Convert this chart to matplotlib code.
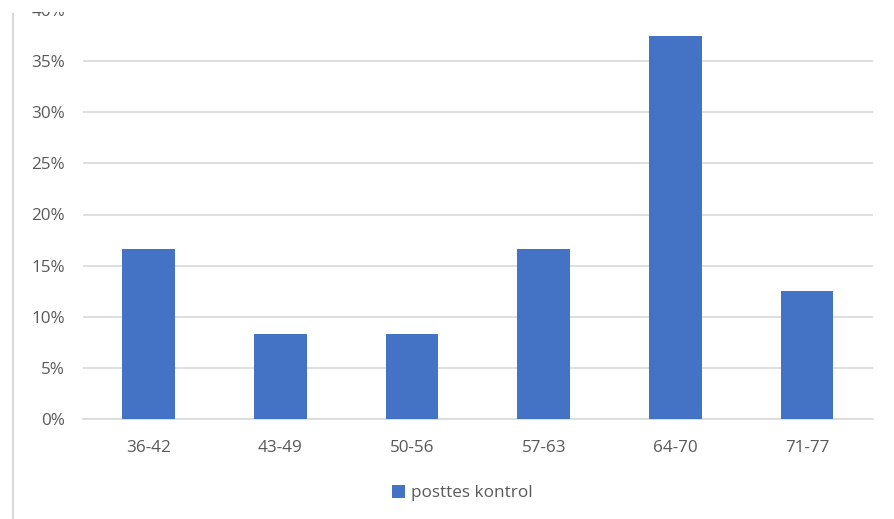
import matplotlib.pyplot as plt
from matplotlib.patches import Rectangle
from matplotlib.lines import Line2D
from matplotlib.ticker import FuncFormatter

# score ranges and share of students in each (posttest, control group)
kelas = ["36-42", "43-49", "50-56", "57-63", "64-70", "71-77"]
persen = [0.1667, 0.0833, 0.0833, 0.1667, 0.375, 0.125]
seri = "posttes kontrol"

plt.rcParams["font.family"] = ["Open Sans", "DejaVu Sans"]
teks = "#595959"
biru = "#4472C4"
grid = "#D9D9D9"

W, H = 895, 519
fig = plt.figure(figsize=(W / 100, H / 100), dpi=100)

# plot area in pixels: x 83..873, y 10 (40%) .. 419 (0%)
ax = fig.add_axes([83 / W, 1 - 419 / H, (873 - 83) / W, (419 - 10) / H])

x = range(len(kelas))
ax.bar(x, persen, width=0.4, color=biru, zorder=3, label=seri)

ax.set_xlim(-0.5, len(kelas) - 0.5)
ax.set_ylim(0, 0.40)
ax.set_yticks([i * 0.05 for i in range(9)])
ax.yaxis.set_major_formatter(FuncFormatter(lambda v, p: f"{v * 100:.0f}%"))
ax.set_xticks(list(x))
ax.set_xticklabels(kelas)

ax.grid(axis="y", color=grid, linewidth=1.2, zorder=0)
for s in ["top", "right", "left"]:
    ax.spines[s].set_visible(False)
ax.spines["bottom"].set_color(grid)
ax.spines["bottom"].set_linewidth(1.2)
ax.tick_params(axis="both", length=0, colors=teks, labelsize=12.3)
ax.tick_params(axis="y", pad=13)
ax.tick_params(axis="x", pad=15)

# legend below the plot
leg = fig.legend(loc="center", bbox_to_anchor=(462 / W, 1 - 493 / H),
                 frameon=False, fontsize=12.3, handlelength=0.8,
                 handleheight=0.8, handletextpad=0.3, labelcolor=teks)

# outer chart frame edge on the left
fig.add_artist(Line2D([13 / W, 13 / W], [0, 1 - 14 / H],
                      transform=fig.transFigure, color="#D9D9D9", linewidth=1.5))

# top strip is clipped off in the source layout
fig.add_artist(Rectangle((0, 1 - 12 / H), 1, 12 / H, transform=fig.transFigure,
                         facecolor="white", edgecolor="none", zorder=10))

fig.savefig("out.png", dpi=100)
